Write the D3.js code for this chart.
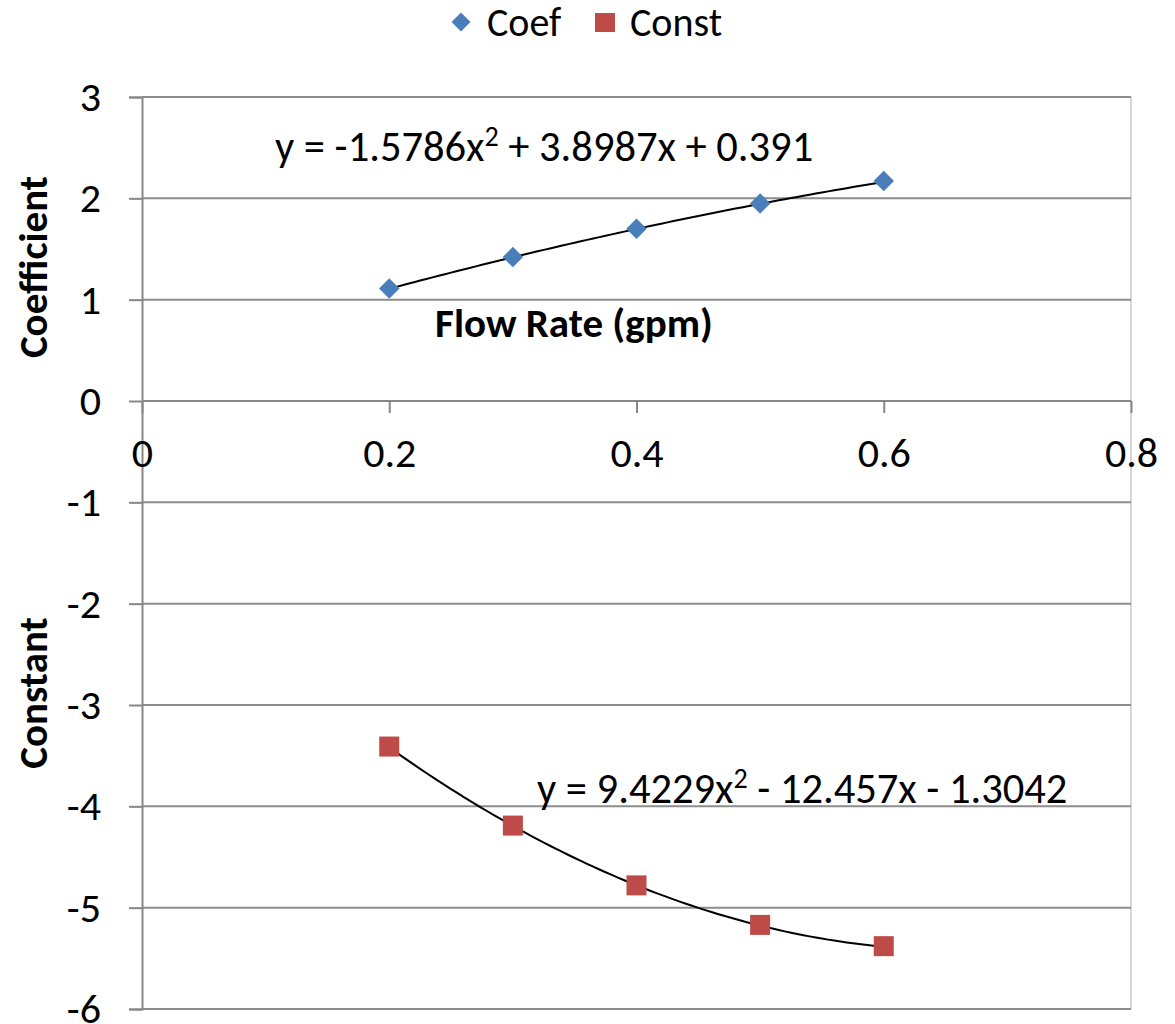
<!DOCTYPE html>
<html>
<head>
<meta charset="utf-8">
<script src="https://cdn.jsdelivr.net/npm/d3@7"></script>
<style>
  html, body { margin: 0; padding: 0; background: #fff; }
  svg { display: block; }
  text { font-family: Carlito, Calibri, Lato, sans-serif; fill: #000; }
</style>
</head>
<body>
<svg id="chart" width="1175" height="1024"></svg>
<script>
// Flow rate (gpm) for each measurement
const flowRate = [0.2, 0.3, 0.4, 0.5, 0.6];
// Fitted coefficient and constant at each flow rate
const coefValues = [1.11, 1.42, 1.70, 1.95, 2.17];
const constValues = [-3.41, -4.19, -4.78, -5.17, -5.38];

// Second-order polynomial trendlines [a, b, c] for y = a x^2 + b x + c
const coefTrend = [-1.5786, 3.8987, 0.391];
const constTrend = [9.4229, -12.457, -1.3042];
const coefEquation = ["y = -1.5786x", "2", " + 3.8987x + 0.391"];
const constEquation = ["y = 9.4229x", "2", " - 12.457x - 1.3042"];

// Axis ticks
const xTicks = [0, 0.2, 0.4, 0.6, 0.8];
const xTickLabels = ["0", "0.2", "0.4", "0.6", "0.8"];
const yTicks = [3, 2, 1, 0, -1, -2, -3, -4, -5, -6];
const yTickLabels = ["3", "2", "1", "0", "-1", "-2", "-3", "-4", "-5", "-6"];

const seriesNames = ["Coef", "Const"];
const seriesColors = ["#4A7EBB", "#BE4B48"];

const FONT = "Carlito, Calibri, Lato, sans-serif";
const svg = d3.select("#chart");
const W = 1175, H = 1024;
const plot = { left: 142, right: 1131, top: 97, bottom: 1009 };

const x = d3.scaleLinear().domain([0, 0.8]).range([plot.left, plot.right]);
const y = d3.scaleLinear().domain([-6, 3]).range([plot.bottom, plot.top]);

svg.append("rect").attr("width", W).attr("height", H).attr("fill", "#fff");

// Plot-area outline on the right
svg.append("line")
  .attr("x1", x(0.8)).attr("x2", x(0.8))
  .attr("y1", y(3)).attr("y2", y(-6))
  .attr("stroke", "#c8c8c8").attr("stroke-width", 1.5);

// Horizontal gridlines
svg.append("g").selectAll("line")
  .data(yTicks)
  .join("line")
  .attr("x1", x(0)).attr("x2", x(0.8))
  .attr("y1", d => y(d)).attr("y2", d => y(d))
  .attr("stroke", "#8c8c8c").attr("stroke-width", 2);

// Y axis (vertical line through x = 0) with outward ticks
const yAxis = d3.axisLeft(y).tickValues(yTicks).tickSize(13).tickPadding(28)
  .tickFormat((d, i) => yTickLabels[i]);
const gy = svg.append("g").attr("transform", `translate(${x(0)},0)`).call(yAxis);
gy.select(".domain").attr("stroke", "#878787").attr("stroke-width", 2);
gy.selectAll(".tick line").attr("stroke", "#878787").attr("stroke-width", 2);
gy.selectAll(".tick text").attr("font-size", 42).attr("fill", "#000");

// X axis crossing at y = 0 with ticks pointing down
const xAxis = d3.axisBottom(x).tickValues(xTicks).tickSize(12).tickPadding(24)
  .tickFormat((d, i) => xTickLabels[i]);
const gx = svg.append("g").attr("transform", `translate(0,${y(0)})`).call(xAxis);
gx.select(".domain").attr("stroke", "#878787").attr("stroke-width", 2)
  .attr("d", `M${x(0)},0H${x(0.8)}`);
gx.selectAll(".tick line").attr("stroke", "#878787").attr("stroke-width", 2);
gx.selectAll(".tick text").attr("font-size", 42).attr("fill", "#000");
svg.selectAll(".tick text").style("font-family", FONT);

// Polynomial trendlines over the measured range
const poly = (p, v) => p[0] * v * v + p[1] * v + p[2];
const trendX = d3.range(0.2, 0.6 + 1e-9, 0.005);
const trendLine = p => d3.line().x(d => x(d)).y(d => y(poly(p, d)))(trendX);
[coefTrend, constTrend].forEach(p => {
  svg.append("path").attr("d", trendLine(p))
    .attr("fill", "none").attr("stroke", "#000").attr("stroke-width", 2);
});

// Markers
svg.append("g").selectAll("path")
  .data(flowRate.map((f, i) => [f, coefValues[i]]))
  .join("path")
  .attr("d", d3.symbol().type(d3.symbolSquare).size(210))
  .attr("transform", d => `translate(${x(d[0])},${y(d[1])}) rotate(45)`)
  .attr("fill", seriesColors[0]);

svg.append("g").selectAll("rect")
  .data(flowRate.map((f, i) => [f, constValues[i]]))
  .join("rect")
  .attr("x", d => x(d[0]) - 10).attr("y", d => y(d[1]) - 10)
  .attr("width", 20).attr("height", 20)
  .attr("fill", seriesColors[1]);

// Trendline equations
function equation(parts, px, py) {
  const t = svg.append("text").attr("x", px).attr("y", py).attr("font-size", 42.5);
  t.append("tspan").text(parts[0]);
  t.append("tspan").attr("dy", -15).attr("font-size", 28).text(parts[1]);
  t.append("tspan").attr("dy", 15).text(parts[2]);
}
equation(coefEquation, 275, 161);
equation(constEquation, 537, 803);

// Axis titles
svg.append("text")
  .attr("x", 574).attr("y", 337)
  .attr("text-anchor", "middle").attr("font-size", 41).attr("font-weight", "bold")
  .text("Flow Rate (gpm)");

svg.append("text")
  .attr("transform", "translate(47,267) rotate(-90)")
  .attr("text-anchor", "middle").attr("font-size", 41).attr("font-weight", "bold")
  .text("Coefficient");

svg.append("text")
  .attr("transform", "translate(47,693) rotate(-90)")
  .attr("text-anchor", "middle").attr("font-size", 41).attr("font-weight", "bold")
  .text("Constant");

// Legend
const legend = svg.append("g");
legend.append("path")
  .attr("d", d3.symbol().type(d3.symbolSquare).size(180))
  .attr("transform", "translate(461,22) rotate(45)")
  .attr("fill", seriesColors[0]);
legend.append("text").attr("x", 487).attr("y", 36).attr("font-size", 40).text(seriesNames[0]);
legend.append("rect").attr("x", 595).attr("y", 13).attr("width", 20).attr("height", 19)
  .attr("fill", seriesColors[1]);
legend.append("text").attr("x", 630).attr("y", 36).attr("font-size", 40).text(seriesNames[1]);
</script>
</body>
</html>
